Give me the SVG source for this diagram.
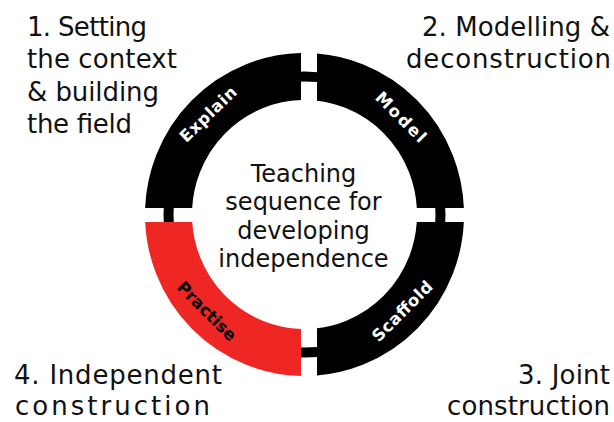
<svg xmlns="http://www.w3.org/2000/svg" xmlns:xlink="http://www.w3.org/1999/xlink" width="614" height="422" viewBox="0 0 614 422">
  <style>
    .lbl { font-family: "DejaVu Sans", "Liberation Sans", sans-serif; font-size: 26px; fill: #111; }
    .ctr { font-family: "DejaVu Sans", "Liberation Sans", sans-serif; font-size: 24px; fill: #111; text-anchor: middle; }
    .seg { font-family: "DejaVu Sans", "Liberation Sans", sans-serif; font-size: 16.5px; font-weight: bold; text-anchor: middle; }
    .ring { fill: none; stroke-width: 47; }
    .band { fill: none; stroke: #000; stroke-width: 10; }
  </style>
  <defs>
    <ellipse id="ringShape" cx="304.5" cy="214.5" rx="136" ry="138"/>
    <clipPath id="cTL"><rect x="0" y="0" width="301" height="208"/></clipPath>
    <clipPath id="cTR"><rect x="317" y="0" width="297" height="208"/></clipPath>
    <clipPath id="cBR"><rect x="317" y="222" width="297" height="200"/></clipPath>
    <clipPath id="cBL"><rect x="0" y="222" width="301" height="200"/></clipPath>
  </defs>
  <rect width="614" height="422" fill="#fff"/>

  <g id="connectors">
    <use xlink:href="#ringShape" href="#ringShape" class="band"/>
  </g>

  <g id="explain">
    <use xlink:href="#ringShape" href="#ringShape" class="ring" stroke="#000" clip-path="url(#cTL)"/>
    <text class="seg" fill="#fff" transform="translate(208,114) rotate(-44)" y="6" textLength="72" lengthAdjust="spacing">Explain</text>
  </g>

  <g id="model">
    <use xlink:href="#ringShape" href="#ringShape" class="ring" stroke="#000" clip-path="url(#cTR)"/>
    <text class="seg" fill="#fff" transform="translate(401,117) rotate(45)" y="6" textLength="64" lengthAdjust="spacing">Model</text>
  </g>

  <g id="scaffold">
    <use xlink:href="#ringShape" href="#ringShape" class="ring" stroke="#000" clip-path="url(#cBR)"/>
    <text class="seg" fill="#fff" transform="translate(402,311) rotate(-45)" y="6" textLength="78" lengthAdjust="spacing">Scaffold</text>
  </g>

  <g id="practise">
    <use xlink:href="#ringShape" href="#ringShape" class="ring" stroke="#EE2624" clip-path="url(#cBL)"/>
    <text class="seg" fill="#000" transform="translate(207,311) rotate(45)" y="6" textLength="76" lengthAdjust="spacing">Practise</text>
  </g>

  <g id="centre">
    <text class="ctr" x="303.5" y="182">Teaching</text>
    <text class="ctr" x="303.5" y="210">sequence for</text>
    <text class="ctr" x="303.5" y="239">developing</text>
    <text class="ctr" x="303.5" y="267">independence</text>
  </g>

  <g id="stage1">
    <text class="lbl" x="27" y="36" textLength="120" lengthAdjust="spacing">1. Setting</text>
    <text class="lbl" x="27" y="68" textLength="150" lengthAdjust="spacing">the context</text>
    <text class="lbl" x="27" y="101" textLength="132" lengthAdjust="spacing">&amp; building</text>
    <text class="lbl" x="27" y="133" textLength="105" lengthAdjust="spacing">the field</text>
  </g>

  <g id="stage2">
    <text class="lbl" x="422" y="36" textLength="188" lengthAdjust="spacing">2. Modelling &amp;</text>
    <text class="lbl" x="406" y="68" textLength="205" lengthAdjust="spacing">deconstruction</text>
  </g>

  <g id="stage3">
    <text class="lbl" x="518" y="384" textLength="92" lengthAdjust="spacing">3. Joint</text>
    <text class="lbl" x="447" y="415" textLength="163" lengthAdjust="spacing">construction</text>
  </g>

  <g id="stage4">
    <text class="lbl" x="14" y="384" textLength="208" lengthAdjust="spacing">4. Independent</text>
    <text class="lbl" x="15" y="415" textLength="195" lengthAdjust="spacing">construction</text>
  </g>
</svg>
